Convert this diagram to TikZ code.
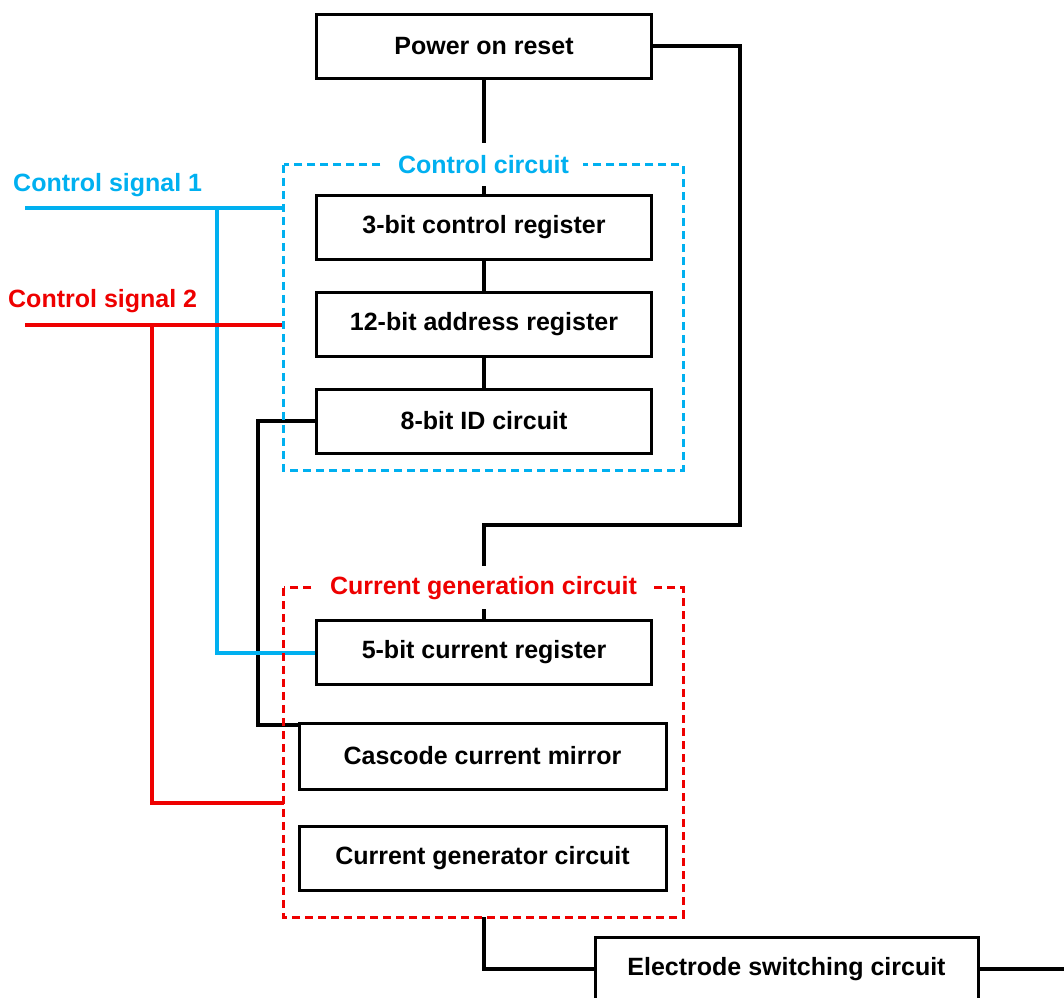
\documentclass[tikz,border=0pt]{standalone}
\usepackage{fontspec}
\setmainfont{Liberation Sans}
\usetikzlibrary{calc}
\definecolor{cblue}{RGB}{0,176,240}
\definecolor{cred}{RGB}{238,0,0}
\begin{document}
\begin{tikzpicture}[x=1pt,y=-1pt,
  every node/.style={font=\fontsize{25}{30}\selectfont\bfseries},
  blk/.style={draw=black,line width=3pt,fill=white,minimum width=335pt,minimum height=64pt,inner sep=0pt},
  wblk/.style={blk,minimum width=367pt,minimum height=66pt},
  conn/.style={draw=black,line width=4pt},
  bconn/.style={draw=cblue,line width=4pt},
  rconn/.style={draw=cred,line width=4pt},
  grp/.style={minimum width=399pt,inner sep=0pt},
  grpframe/.style={line width=3pt,dash pattern=on 8pt off 5pt},
  grplabel/.style={fill=white,inner xsep=14pt,minimum height=43pt,inner ysep=0pt},
  siglabel/.style={anchor=west,inner sep=0pt}
]
\useasboundingbox (0,0) rectangle (1064,997);
% group areas
\node[grp,minimum height=305pt] (ctrl) at (483.5,317.5) {};
\node[grp,minimum height=329pt] (gen) at (483.5,752.5) {};
% coordinates
\coordinate (cs1) at (25,208);
\coordinate (b1) at (217,208);
\coordinate (cs2) at (25,325);
\coordinate (b2) at (152,325);
\coordinate (k1) at (258,421);
\coordinate (loop) at (740,525);
\coordinate (outR) at (1064,969);
% boxes
\node[blk] (por) at (484,46) {Power on reset};
\node[blk] (reg3) at (484,227) {3-bit control register};
\node[blk] (reg12) at (484,324) {12-bit address register};
\node[blk] (id8) at (484,421) {8-bit ID circuit};
\node[blk] (cur5) at (484,652.5) {5-bit current register};
\node[wblk] (cas) at (482.5,756) {Cascode current mirror};
\node[wblk,minimum height=64pt] (cgc) at (482.5,858) {Current generator circuit};
\node[blk,minimum width=383pt] (esc) at (786.5,969) {Electrode switching circuit};
% connectors (black)
\draw[conn] (por.south) -- (reg3.north);
\draw[conn] (reg3.south) -- (reg12.north);
\draw[conn] (reg12.south) -- (id8.north);
\draw[conn] (por.east) -| (loop) -| (cur5.north);
\draw[conn] (id8.west) -- (k1) |- ($(cas.north west)+(0,3)$);
\draw[conn] (gen.south) |- (esc.west);
\draw[conn] (esc.east) -- (outR);
% control signals
\draw[bconn] (cs1) -- (cs1 -| ctrl.west);
\draw[bconn] (b1) |- (cur5.west);
\draw[rconn] (cs2) -- (cs2 -| ctrl.west);
\draw[rconn] (b2) |- (gen.west |- 0,803);
% group frames
\draw[grpframe,cblue] (ctrl.north west) rectangle (ctrl.south east);
\draw[grpframe,cred] (gen.north west) rectangle (gen.south east);
% group labels
\node[grplabel,text=cblue] (ctrllab) at (ctrl.north) {Control circuit};
\node[grplabel,text=cred] (genlab) at (gen.north) {Current generation circuit};
% signal labels
\node[siglabel,text=cblue] (sig1) at (13,185) {Control signal 1};
\node[siglabel,text=cred] (sig2) at (8,301) {Control signal 2};
\end{tikzpicture}
\end{document}
